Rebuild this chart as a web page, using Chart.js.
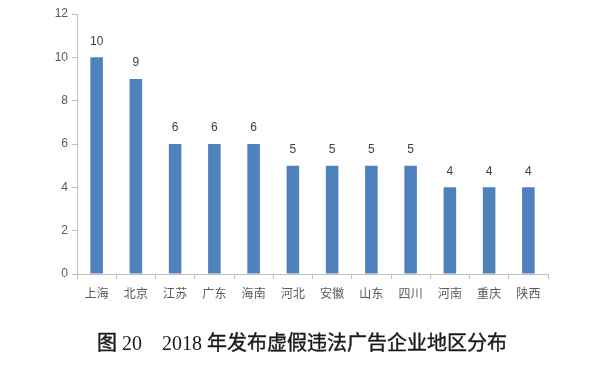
<!DOCTYPE html>
<html>
<head>
<meta charset="utf-8">
<script src="https://cdn.jsdelivr.net/npm/chart.js@4"></script>
<style>
  html, body { margin: 0; padding: 0; background: #fff; }
  #wrap { position: relative; width: 600px; height: 371px; }
  #caption {
    position: absolute;
    left: 0;
    top: 331px;
    width: 604px;
    text-align: center;
    font-family: "Liberation Serif", "Noto Sans CJK SC", serif;
    font-size: 20px;
    font-weight: normal;
    line-height: 24px;
    color: #1a1a1a;
    white-space: pre;
  }
  #caption .cjk { -webkit-text-stroke: 0.4px #1a1a1a; }
</style>
</head>
<body>
<div id="wrap">
  <canvas id="myChart" width="600" height="371"></canvas>
  <div id="caption"></div>
</div>
<script>
const regions = ["上海", "北京", "江苏", "广东", "海南", "河北", "安徽", "山东", "四川", "河南", "重庆", "陕西"];
const counts = [10, 9, 6, 6, 6, 5, 5, 5, 5, 4, 4, 4];
const yTicks = [0, 2, 4, 6, 8, 10, 12];
const titleText = "图 20\u30002018 年发布虚假违法广告企业地区分布";

// caption: thicken only the Chinese characters a little (reference uses a heavier hei font)
const caption = document.getElementById("caption");
titleText.split(/([\u4e00-\u9fff]+)/).forEach((part) => {
  if (!part) return;
  if (/[\u4e00-\u9fff]/.test(part)) {
    const span = document.createElement("span");
    span.className = "cjk";
    span.textContent = part;
    caption.appendChild(span);
  } else {
    caption.appendChild(document.createTextNode(part));
  }
});

// value labels above each bar
const valueLabels = {
  id: "valueLabels",
  afterDatasetsDraw(chart) {
    const ctx = chart.ctx;
    const meta = chart.getDatasetMeta(0);
    ctx.save();
    ctx.font = '12px "Liberation Sans", Arial, sans-serif';
    ctx.fillStyle = "#404040";
    ctx.textAlign = "center";
    ctx.textBaseline = "middle";
    meta.data.forEach((bar, i) => {
      ctx.fillText(String(counts[i]), bar.x, bar.y - 16);
    });
    ctx.restore();
  },
};

const ctx = document.getElementById("myChart").getContext("2d");
new Chart(ctx, {
  type: "bar",
  data: {
    labels: regions,
    datasets: [
      {
        data: counts,
        backgroundColor: "#4f81bd",
        categoryPercentage: 1,
        barPercentage: 0.32,
      },
    ],
  },
  options: {
    responsive: false,
    animation: false,
    layout: { padding: { top: 14, right: 52, bottom: 52, left: 0 } },
    plugins: {
      legend: { display: false },
      tooltip: { enabled: false },
    },
    scales: {
      x: {
        offset: true,
        grid: { display: true, offset: true, drawOnChartArea: false, tickLength: 5, color: "#bfbfbf" },
        border: { display: true, color: "#bfbfbf" },
        ticks: { color: "#595959", padding: 7, font: { family: '"Noto Sans CJK SC"', size: 12 }, maxRotation: 0 },
        afterFit(scale) { scale.height = 45; },
      },
      y: {
        min: 0,
        max: 12,
        afterBuildTicks(scale) { scale.ticks = yTicks.map((v) => ({ value: v })); },
        grid: { display: true, drawOnChartArea: false, tickLength: 5, color: "#bfbfbf" },
        border: { display: true, color: "#bfbfbf" },
        ticks: { color: "#595959", padding: 4, font: { family: '"Liberation Sans", Arial', size: 12 } },
        afterFit(scale) { scale.width = 77; },
      },
    },
  },
  plugins: [valueLabels],
});
</script>
</body>
</html>
